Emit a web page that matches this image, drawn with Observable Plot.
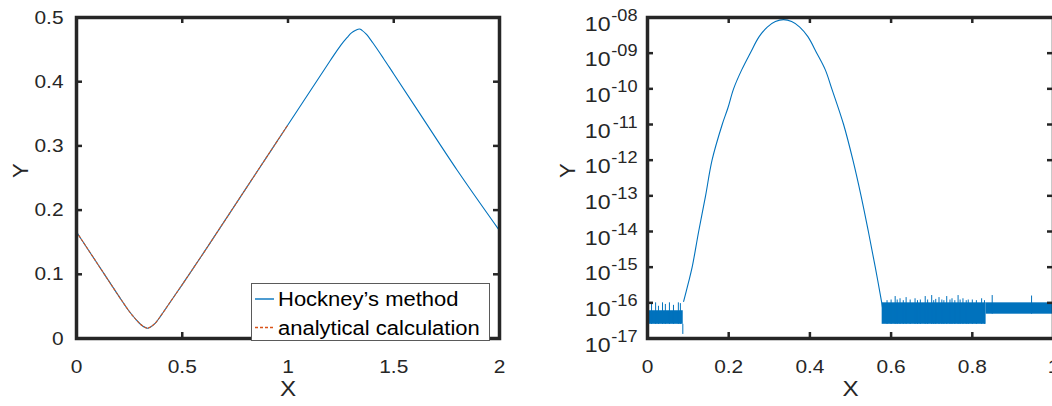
<!DOCTYPE html>
<html><head><meta charset="utf-8">
<script src="https://cdn.jsdelivr.net/npm/d3@7"></script>
<script src="https://cdn.jsdelivr.net/npm/@observablehq/plot@0.6"></script>
<style>
html,body{margin:0;padding:0;background:#fff;overflow:hidden;width:1052px;height:406px}
#wrap{position:relative;width:1060px;height:406px;font-family:"Liberation Sans",Arial,Helvetica,sans-serif}
.panel{position:absolute;top:0}
#legend{position:absolute;left:251px;top:283px;width:237px;height:56px;background:#fff;border:1px solid #5a5a5a}
</style></head><body><div id="wrap"><div id="pl" class="panel" style="left:0"></div><div id="pr" class="panel" style="left:526px"></div><div id="legend"></div></div>
<script>
// ---- left panel data ----
const hockneyX = [0, 0.1, 0.2, 0.25, 0.28, 0.3, 0.32, 0.336, 0.35, 0.37, 0.4, 0.45, 0.5, 0.6, 0.8, 1.0, 1.2, 1.25, 1.28, 1.3, 1.32, 1.338, 1.35, 1.37, 1.4, 1.45, 1.5, 1.6, 1.8, 2.0];
const hockneyY = [0.166, 0.116, 0.066, 0.042, 0.030, 0.023, 0.018, 0.016, 0.018, 0.023, 0.036, 0.060, 0.084, 0.133, 0.233, 0.333, 0.433, 0.457, 0.469, 0.476, 0.480, 0.482, 0.480, 0.474, 0.461, 0.437, 0.412, 0.362, 0.262, 0.168];
const analyticalX = [0, 0.1, 0.2, 0.25, 0.28, 0.3, 0.32, 0.336, 0.35, 0.37, 0.4, 0.45, 0.5, 0.6, 0.8, 1.0];
const analyticalY = [0.166, 0.116, 0.066, 0.042, 0.030, 0.023, 0.018, 0.016, 0.018, 0.023, 0.036, 0.060, 0.084, 0.133, 0.233, 0.333];
const leftXTicks = [0, 0.5, 1, 1.5, 2];
const leftYTicks = [0, 0.1, 0.2, 0.3, 0.4, 0.5];
const legendNames = ["Hockney’s method", "analytical calculation"];
const legendColors = ["#0072BD", "#D95319"];
// ---- right panel data ----
const peakX = [0.089, 0.100, 0.110, 0.126, 0.143, 0.159, 0.184, 0.198, 0.212, 0.232, 0.253, 0.275, 0.295, 0.315, 0.335, 0.355, 0.375, 0.395, 0.417, 0.438, 0.454, 0.483, 0.506, 0.526, 0.544, 0.561, 0.577, 0.580];
const peakY = [1.1e-16, 3.4e-16, 1e-15, 1e-14, 1e-13, 1e-12, 1e-11, 2.9e-11, 1e-10, 3.4e-10, 1e-9, 2.9e-9, 5.4e-9, 7.7e-9, 8.7e-9, 7.7e-9, 5.4e-9, 2.9e-9, 1e-9, 3.4e-10, 1e-10, 1e-11, 1e-12, 1e-13, 1e-14, 1e-15, 1e-16, 6e-17];
const noiseX1 = [0, 0.578, 0.834];
const noiseX2 = [0.088, 0.834, 1.0];
const noiseLo = [2.5e-17, 2.5e-17, 4.8e-17];
const noiseHi = [6e-17, 1.0e-16, 1.0e-16];
const spikeX = [0.010, 0.020, 0.027, 0.037, 0.044, 0.054, 0.064, 0.076, 0.081, 0.087,
  0.590, 0.600, 0.610, 0.615, 0.622, 0.630, 0.637, 0.647, 0.659, 0.665, 0.672, 0.684, 0.690, 0.700, 0.705, 0.710, 0.718, 0.725, 0.730, 0.737, 0.745, 0.750, 0.757, 0.765, 0.770, 0.777, 0.785, 0.790, 0.800, 0.810, 0.823, 0.830,
  0.849, 0.946];
const spikeY = [9e-17, 1e-16, 8e-17, 1e-16, 9e-17, 1e-16, 8.5e-17, 1e-16, 9.5e-17, 1.3e-17,
  1.15e-16, 1.2e-16, 1.5e-16, 1.2e-16, 1.3e-16, 1.15e-16, 1.4e-16, 1.2e-16, 1.3e-16, 1.15e-16, 1.2e-16, 1.5e-16, 1.2e-16, 1.6e-16, 1.15e-16, 1.25e-16, 1.4e-16, 1.2e-16, 1.15e-16, 1.5e-16, 1.2e-16, 1.3e-16, 1.15e-16, 1.6e-16, 1.2e-16, 1.3e-16, 1.15e-16, 1.2e-16, 1.2e-16, 1.15e-16, 1.3e-16, 1.15e-16,
  1.6e-16, 1.55e-16];
const rightXTicks = [0, 0.2, 0.4, 0.6, 0.8, 1];
const rightYTicks = [1e-8, 1e-9, 1e-10, 1e-11, 1e-12, 1e-13, 1e-14, 1e-15, 1e-16, 1e-17];
const rightYExp = ["-08", "-09", "-10", "-11", "-12", "-13", "-14", "-15", "-16", "-17"];
const axisNames = ["X", "Y"];

const ink = "#262626";
const font = "Liberation Sans, Arial, Helvetica, sans-serif";
const fmt = d => String(d);

function ticksAllSides(xt, yt, iw, ih) {
  const t = 6, sw = 2.5;
  return [
    Plot.tickY(yt, {y: d => d, insetRight: iw - t, stroke: ink, strokeWidth: sw}),
    Plot.tickY(yt, {y: d => d, insetLeft: iw - t, stroke: ink, strokeWidth: sw}),
    Plot.tickX(xt, {x: d => d, insetTop: ih - t, stroke: ink, strokeWidth: sw}),
    Plot.tickX(xt, {x: d => d, insetBottom: ih - t, stroke: ink, strokeWidth: sw})
  ];
}

// ---- left plot ----
const hockney = hockneyX.map((x, i) => ({x, y: hockneyY[i]}));
const analytical = analyticalX.map((x, i) => ({x, y: analyticalY[i]}));
const left = Plot.plot({
  width: 526, height: 406, marginLeft: 76, marginRight: 27, marginTop: 17, marginBottom: 68,
  style: {fontFamily: font, fontSize: "19px", color: ink, background: "transparent", overflow: "visible"},
  x: {domain: [0, 2], label: null, axis: null},
  y: {domain: [0, 0.5], label: null, axis: null},
  marks: [
    Plot.line(hockney, {x: "x", y: "y", stroke: legendColors[0], strokeWidth: 1.1, curve: "catmull-rom"}),
    Plot.line(analytical, {x: "x", y: "y", stroke: legendColors[1], strokeWidth: 1.1, strokeDasharray: "2.5,2", curve: "catmull-rom"}),
    ...ticksAllSides(leftXTicks, leftYTicks, 423, 321),
    Plot.frame({stroke: ink, strokeWidth: 3.5}),
    Plot.axisX(leftXTicks, {anchor: "bottom", tickSize: 0, tickPadding: 21, fontSize: 19, fill: ink, label: null, tickFormat: fmt}),
    Plot.axisY(leftYTicks, {anchor: "left", tickSize: 0, tickPadding: 13, fontSize: 19, fill: ink, label: null, tickFormat: fmt}),
    Plot.text([axisNames[0]], {frameAnchor: "bottom", dy: 50, fontSize: 22, fill: ink, lineAnchor: "middle"}),
    Plot.text([axisNames[1]], {frameAnchor: "left", dx: -56, rotate: -90, fontSize: 22, fill: ink, lineAnchor: "middle"})
  ]
});
document.getElementById("pl").appendChild(left);

// ---- right plot ----
const peak = peakX.map((x, i) => ({x, y: peakY[i]}));
const bands = noiseX1.map((x1, i) => ({x1, x2: noiseX2[i], lo: noiseLo[i], hi: noiseHi[i]}));
const bandOf = x => bands.find(b => x >= b.x1 && x <= b.x2) || bands[0];
const spikes = spikeX.map((x, i) => ({x, y1: bandOf(x).lo, y2: spikeY[i]}));
const right = Plot.plot({
  width: 530, height: 406, marginLeft: 121, marginRight: 3, marginTop: 17, marginBottom: 68,
  style: {fontFamily: font, fontSize: "19px", color: ink, background: "transparent", overflow: "visible"},
  x: {domain: [0, 1], label: null, axis: null},
  y: {type: "log", domain: [1e-17, 1e-8], label: null, axis: null},
  marks: [
    Plot.rect(bands, {x1: "x1", x2: "x2", y1: "lo", y2: "hi", fill: "#0072BD"}),
    Plot.ruleX(spikes, {x: "x", y1: "y1", y2: "y2", stroke: "#0072BD", strokeWidth: 1}),
    Plot.line(peak, {x: "x", y: "y", stroke: "#0072BD", strokeWidth: 1.1, curve: "catmull-rom"}),
    ...ticksAllSides(rightXTicks, rightYTicks, 406, 321),
    Plot.frame({stroke: ink, strokeWidth: 3.5}),
    Plot.axisX(rightXTicks, {anchor: "bottom", tickSize: 0, tickPadding: 21, fontSize: 19, fill: ink, label: null, tickFormat: fmt}),
    Plot.text(rightYTicks, {x: 0, y: d => d, text: () => "10", textAnchor: "end", lineAnchor: "middle", dx: -37, dy: 6.5, fontSize: 21, fill: ink}),
    Plot.text(rightYTicks, {x: 0, y: d => d, text: (d, i) => rightYExp[i], textAnchor: "end", lineAnchor: "middle", dx: -10, dy: -2, fontSize: 16.5, fill: ink}),
    Plot.text([axisNames[0]], {frameAnchor: "bottom", dy: 50, fontSize: 22, fill: ink, lineAnchor: "middle"}),
    Plot.text([axisNames[1]], {frameAnchor: "left", dx: -80, rotate: -90, fontSize: 22, fill: ink, lineAnchor: "middle"})
  ]
});
document.getElementById("pr").appendChild(right);

// ---- legend ----
const ns = "http://www.w3.org/2000/svg";
const lg = document.createElementNS(ns, "svg");
lg.setAttribute("width", 237); lg.setAttribute("height", 56);
legendNames.forEach((name, i) => {
  const cy = 15 + i * 28.5;
  const ln = document.createElementNS(ns, "line");
  ln.setAttribute("x1", 3); ln.setAttribute("x2", 22); ln.setAttribute("y1", cy); ln.setAttribute("y2", cy);
  ln.setAttribute("stroke", legendColors[i]); ln.setAttribute("stroke-width", 1.4);
  if (i === 1) ln.setAttribute("stroke-dasharray", "3,2");
  lg.appendChild(ln);
  const tx = document.createElementNS(ns, "text");
  tx.setAttribute("x", 26); tx.setAttribute("y", cy); tx.setAttribute("dy", "0.35em");
  tx.setAttribute("font-family", font); tx.setAttribute("font-size", 20); tx.setAttribute("fill", "#000");
  tx.textContent = name;
  lg.appendChild(tx);
});
document.getElementById("legend").appendChild(lg);

// slight horizontal stretch of all texts, as in the reference rendering
document.querySelectorAll("#wrap svg text").forEach(t => {
  if (t.querySelectorAll("tspan").length) return;
  const L = t.getComputedTextLength();
  if (L > 0 && !(t.getAttribute("transform") || "").includes("rotate")) {
    t.setAttribute("textLength", (L * 1.1).toFixed(2));
    t.setAttribute("lengthAdjust", "spacingAndGlyphs");
  }
});
</script>
</body></html>
